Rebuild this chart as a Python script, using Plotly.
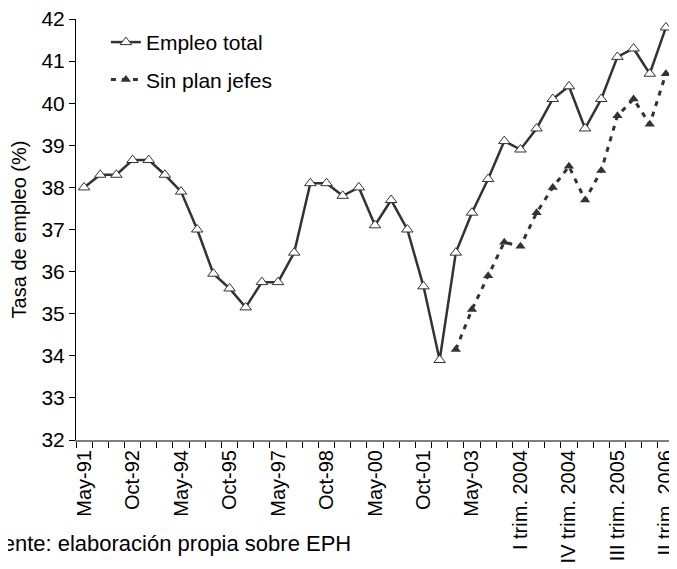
import plotly.graph_objects as go

categories = ["May-91", "Oct-91", "May-92", "Oct-92", "May-93", "Oct-93", "May-94", "Oct-94",
              "May-95", "Oct-95", "May-96", "Oct-96", "May-97", "Oct-97", "May-98", "Oct-98",
              "May-99", "Oct-99", "May-00", "Oct-00", "May-01", "Oct-01", "May-02", "Oct-02",
              "May-03", "III trim. 2003", "IV trim. 2003", "I trim. 2004", "II trim. 2004",
              "III trim. 2004", "IV trim. 2004", "I trim. 2005", "II trim. 2005", "III trim. 2005",
              "IV trim. 2005", "I trim. 2006", "II trim. 2006"]

empleo_total = [38.0, 38.3, 38.3, 38.65, 38.65, 38.3, 37.9, 37.0, 35.95, 35.6, 35.15, 35.75,
                35.75, 36.45, 38.1, 38.1, 37.8, 38.0, 37.1, 37.7, 37.0, 35.65, 33.9, 36.45,
                37.4, 38.2, 39.1, 38.9, 39.4, 40.1, 40.4, 39.4, 40.1, 41.1, 41.3, 40.7, 41.8]

sin_plan_jefes = [None] * 23 + [34.15, 35.1, 35.9, 36.7, 36.6, 37.4, 38.0, 38.5, 37.7, 38.4,
                                39.7, 40.1, 39.5, 40.7]

tick_labels = [c if i % 3 == 0 else "" for i, c in enumerate(categories)]

FONT = "Liberation Sans, Arial, sans-serif"
DARK = "#333333"
FS = 21

fig = go.Figure()
fig.add_trace(go.Scatter(
    x=categories, y=empleo_total, name="Empleo total", mode="lines+markers",
    line=dict(color=DARK, width=2.5),
    marker=dict(symbol="triangle-up", size=10, color="white", line=dict(color=DARK, width=1)),
    legendgroup="a"))
fig.add_trace(go.Scatter(
    x=categories, y=sin_plan_jefes, name="Sin plan jefes", mode="lines+markers",
    line=dict(color=DARK, width=3, dash="5px,6px"),
    marker=dict(symbol="triangle-up", size=9, color=DARK),
    connectgaps=False, legendgroup="b"))

fig.update_layout(
    width=677, height=569,
    margin=dict(l=68, r=11, t=11, b=137, autoexpand=False),
    paper_bgcolor="white", plot_bgcolor="white",
    font=dict(family=FONT, size=FS, color="black"),
    showlegend=True,
    legend=dict(x=0.05, y=0.993, xanchor="left", yanchor="top",
                bgcolor="rgba(0,0,0,0)", font=dict(size=FS), tracegroupgap=7,
                traceorder="grouped"),
    xaxis=dict(type="category", tickvals=categories, ticktext=tick_labels,
               range=[-0.5, len(categories) - 0.5],
               tickangle=-90, tickson="boundaries", ticks="outside", ticklen=6,
               tickcolor="black", showline=True, linecolor="#7f7f7f", linewidth=2,
               showgrid=False, zeroline=False, automargin=False,
               ticklabeloverflow="allow", tickfont=dict(size=20)),
    yaxis=dict(range=[32, 42], dtick=1, ticks="outside", ticklen=6, tickcolor="black",
               showline=True, linecolor="black", linewidth=1, showgrid=False,
               zeroline=False, automargin=False, tickfont=dict(size=FS),
               ticklabeloverflow="allow",
               title=dict(text="Tasa de empleo (%)", font=dict(size=FS - 1), standoff=10)),
    annotations=[dict(text="Fuente: elaboración propia sobre EPH", xref="paper", yref="paper",
                      x=0.4633, y=-0.245, xanchor="right", yanchor="middle",
                      showarrow=False, font=dict(size=22))],
)

fig.write_html("out.html")
